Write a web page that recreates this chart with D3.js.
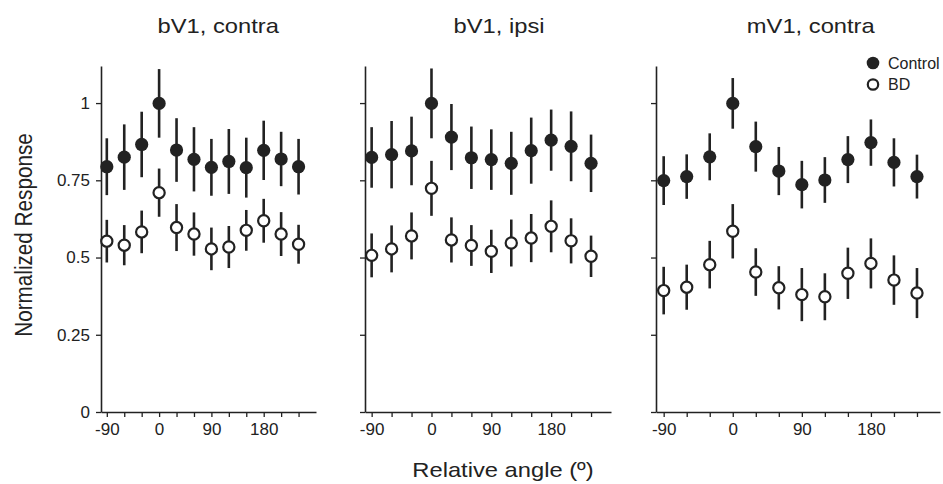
<!DOCTYPE html>
<html>
<head>
<meta charset="utf-8">
<script src="https://cdn.jsdelivr.net/npm/d3@7"></script>
<style>
  body { margin: 0; background: #fff; }
  text { font-family: "Liberation Sans", Arial, sans-serif; fill: #222; }
</style>
</head>
<body>
<svg id="chart" width="943" height="484"></svg>
<script>
// angles on the x axis (deg) and which of them carry a label
var angles = [-90, -60, -30, 0, 30, 60, 90, 120, 150, 180, 210, 240];
var xLabelled = [-90, 0, 90, 180];
var yTicks = [0, 0.25, 0.5, 0.75, 1];
var yTickLabels = ["0", "0.25", "0.5", "0.75", "1"];
var panelTitles = ["bV1, contra", "bV1, ipsi", "mV1, contra"];
var seriesNames = ["Control", "BD"];

// bV1, contra
var bv1ContraCtrl    = [0.794, 0.825, 0.866, 0.999, 0.848, 0.818, 0.792, 0.811, 0.791, 0.847, 0.819, 0.794];
var bv1ContraCtrlErr = [0.092, 0.106, 0.106, 0.111, 0.103, 0.104, 0.092, 0.105, 0.097, 0.096, 0.088, 0.090];
var bv1ContraBD      = [0.553, 0.540, 0.583, 0.710, 0.597, 0.576, 0.528, 0.534, 0.588, 0.619, 0.576, 0.543];
var bv1ContraBDErr   = [0.069, 0.065, 0.069, 0.078, 0.076, 0.070, 0.069, 0.068, 0.066, 0.071, 0.071, 0.063];

// bV1, ipsi
var bv1IpsiCtrl    = [0.824, 0.833, 0.845, 0.999, 0.890, 0.823, 0.817, 0.805, 0.846, 0.880, 0.860, 0.805];
var bv1IpsiCtrlErr = [0.098, 0.109, 0.111, 0.113, 0.107, 0.101, 0.098, 0.102, 0.107, 0.099, 0.113, 0.093];
var bv1IpsiBD      = [0.507, 0.528, 0.570, 0.724, 0.557, 0.539, 0.520, 0.547, 0.563, 0.601, 0.554, 0.504];
var bv1IpsiBDErr   = [0.071, 0.076, 0.076, 0.089, 0.073, 0.066, 0.070, 0.076, 0.078, 0.084, 0.073, 0.067];

// mV1, contra
var mv1ContraCtrl    = [0.749, 0.762, 0.826, 0.999, 0.859, 0.780, 0.736, 0.751, 0.817, 0.872, 0.808, 0.762];
var mv1ContraCtrlErr = [0.079, 0.072, 0.076, 0.082, 0.081, 0.078, 0.077, 0.074, 0.076, 0.075, 0.078, 0.071];
var mv1ContraBD      = [0.393, 0.404, 0.477, 0.585, 0.453, 0.402, 0.380, 0.373, 0.449, 0.481, 0.427, 0.385];
var mv1ContraBDErr   = [0.077, 0.073, 0.077, 0.088, 0.077, 0.070, 0.086, 0.076, 0.083, 0.081, 0.080, 0.081];

var panels = [
  { title: panelTitles[0], ctrl: bv1ContraCtrl, ctrlErr: bv1ContraCtrlErr, bd: bv1ContraBD, bdErr: bv1ContraBDErr },
  { title: panelTitles[1], ctrl: bv1IpsiCtrl,   ctrlErr: bv1IpsiCtrlErr,   bd: bv1IpsiBD,   bdErr: bv1IpsiBDErr },
  { title: panelTitles[2], ctrl: mv1ContraCtrl, ctrlErr: mv1ContraCtrlErr, bd: mv1ContraBD, bdErr: mv1ContraBDErr }
];

// layout: panels have different widths in the original
var plotTop = 66, plotBottom = 412;
var xRanges = [[101, 316], [365, 611], [656, 940]];
var ink = "#222";

var svg = d3.select("#chart");

var yScale = d3.scaleLinear().domain([0, 1.12]).range([plotBottom, plotTop]);

panels.forEach(function(p, pi) {
  var xScale = d3.scaleLinear().domain([-100, 270]).range(xRanges[pi]);
  var g = svg.append("g");

  // title (the original type is a little wide, so stretch it a bit)
  var r = xRanges[pi];
  var tx = r[0] + 0.545 * (r[1] - r[0]);
  g.append("text")
    .attr("transform", "translate(" + tx + ",33)scale(1.13,1)")
    .attr("text-anchor", "middle")
    .style("font-size", "21px")
    .text(p.title);

  // x axis
  var xAxis = d3.axisBottom(xScale)
    .tickValues(angles)
    .tickSizeInner(5)
    .tickSizeOuter(0)
    .tickPadding(6)
    .tickFormat(function(d) { return xLabelled.indexOf(d) >= 0 ? d : ""; });
  var gx = g.append("g")
    .attr("transform", "translate(0," + plotBottom + ")")
    .call(xAxis);

  // y axis
  var yAxis = d3.axisLeft(yScale)
    .tickValues(yTicks)
    .tickSizeInner(5)
    .tickSizeOuter(0)
    .tickPadding(6)
    .tickFormat(function(d, i) { return pi == 0 ? yTickLabels[i] : ""; });
  var gy = g.append("g")
    .attr("transform", "translate(" + r[0] + ",0)")
    .call(yAxis);

  [gx, gy].forEach(function(a) {
    a.select(".domain").attr("stroke", ink).attr("stroke-width", 1.6);
    a.selectAll(".tick line").attr("stroke", ink).attr("stroke-width", 1.3);
    a.selectAll(".tick text")
      .attr("fill", ink)
      .style("font-family", "'Liberation Sans', Arial, sans-serif")
      .style("font-size", "17px");
  });

  // series: BD (open) and Control (filled)
  var series = [
    { vals: p.bd, errs: p.bdErr, fill: "#fff" },
    { vals: p.ctrl, errs: p.ctrlErr, fill: ink }
  ];
  series.forEach(function(s) {
    var pts = angles.map(function(a, i) { return { a: a, v: s.vals[i], e: s.errs[i] }; });
    g.selectAll(null).data(pts).enter().append("line")
      .attr("x1", function(d) { return xScale(d.a); })
      .attr("x2", function(d) { return xScale(d.a); })
      .attr("y1", function(d) { return yScale(d.v - d.e); })
      .attr("y2", function(d) { return yScale(d.v + d.e); })
      .attr("stroke", ink)
      .attr("stroke-width", 2.6);
    g.selectAll(null).data(pts).enter().append("circle")
      .attr("cx", function(d) { return xScale(d.a); })
      .attr("cy", function(d) { return yScale(d.v); })
      .attr("r", s.fill == ink ? 6.6 : 5.6)
      .attr("fill", s.fill)
      .attr("stroke", ink)
      .attr("stroke-width", s.fill == ink ? 0 : 2.2);
  });
});

// axis titles
svg.append("text")
  .attr("transform", "translate(32,235)rotate(-90)scale(1,1.12)")
  .attr("text-anchor", "middle")
  .style("font-size", "20.7px")
  .text("Normalized Response");

svg.append("text")
  .attr("transform", "translate(503,477)scale(1.13,1)")
  .attr("text-anchor", "middle")
  .style("font-size", "21px")
  .text("Relative angle (\u00ba)");

// legend
var legend = svg.append("g");
seriesNames.forEach(function(name, i) {
  var y = 63 + i * 21.5;
  legend.append("circle")
    .attr("cx", 873)
    .attr("cy", y)
    .attr("r", i == 0 ? 6.3 : 5.2)
    .attr("fill", i == 0 ? ink : "#fff")
    .attr("stroke", ink)
    .attr("stroke-width", i == 0 ? 0 : 2.2);
  legend.append("text")
    .attr("x", 888)
    .attr("y", y + 5.5)
    .style("font-size", "16px")
    .text(name);
});
</script>
</body>
</html>
